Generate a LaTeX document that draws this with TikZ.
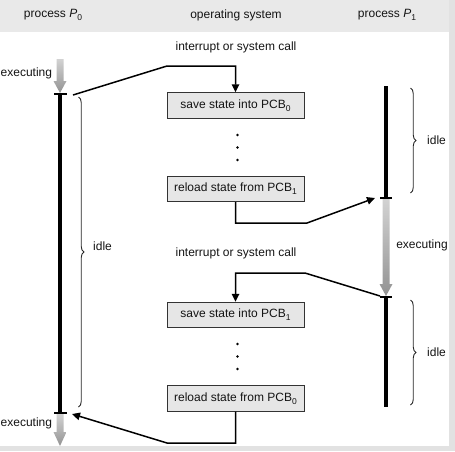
\documentclass[tikz,border=0pt]{standalone}
\usepackage{fontspec}
\setmainfont{Liberation Sans}
\usetikzlibrary{arrows.meta,decorations.pathreplacing}
\definecolor{bandgray}{HTML}{E9E9E9}
\definecolor{edgegray}{HTML}{E2E2E2}
\definecolor{boxgray}{HTML}{E6E6E6}
\definecolor{inkgray}{HTML}{141414}
\newcommand\lowsub[1]{\raisebox{-0.45ex}{\fontsize{8.5}{9}\selectfont #1}}
\begin{document}
\begin{tikzpicture}[x=1pt,y=-1pt,
  font=\fontsize{12}{14}\selectfont, text=inkgray,
  lbl/.style={inner sep=0pt},
  statebox/.style={draw=black!80, fill=boxgray, line width=0.9pt, minimum width=137pt, minimum height=25.5pt, inner sep=0pt},
  conn/.style={line width=1.5pt, draw=black},
  arr/.style={conn, -{Triangle[length=8pt,width=7.5pt]}},
  timeline/.style={line width=3.4pt, draw=black},
  tickmark/.style={line width=1.4pt, draw=black},
  bracestyle/.style={decorate, decoration={brace, amplitude=5.5pt}, line width=0.9pt, draw=black!85},
  dotmark/.style={circle, fill=black, inner sep=0pt, minimum size=2.6pt},
  gradarrow/.style={top color=gray!35, bottom color=gray!85}]
\useasboundingbox (0,0) rectangle (455,451);
% background bands
\fill[bandgray] (0,0) rectangle (449,31.5);
\fill[edgegray] (449,0) rectangle (455,451);
\fill[edgegray] (0,446) rectangle (455,451);

% header labels
\node[lbl] (hp0) at (53,15) {process \textit{P}\lowsub{0}};
\node[lbl] (hos) at (236,15) {operating system};
\node[lbl] (hp1) at (387,15) {process \textit{P}\lowsub{1}};

% OS column
\node[lbl] (int1) at (236,47) {interrupt or system call};
\node[statebox] (s0) at (235.5,105.5) {save state into PCB\lowsub{0}};
\node[dotmark] (d1) at (237.5,135) {};
\node[dotmark] (d2) at (237.5,147.5) {};
\node[dotmark] (d3) at (237.5,160) {};
\node[statebox] (r1) at (235.5,189) {reload state from PCB\lowsub{1}};
\node[lbl] (int2) at (236,253) {interrupt or system call};
\node[statebox] (s1) at (235.5,315) {save state into PCB\lowsub{1}};
\node[dotmark] (d4) at (237.5,344) {};
\node[dotmark] (d5) at (237.5,356.5) {};
\node[dotmark] (d6) at (237.5,369) {};
\node[statebox] (r0) at (235.5,398.5) {reload state from PCB\lowsub{0}};

% process P0
\shade[gradarrow] (56.5,59) -- (63.5,59) -- (63.5,81) -- (66.5,81) -- (60,93) -- (53.5,81) -- (56.5,81) -- cycle;
\coordinate (p0top) at (60,94);
\coordinate (p0bot) at (60,413);
\draw[timeline] (p0top) -- (p0bot);
\draw[tickmark] (54,94) -- (67,94);
\draw[tickmark] (54,413) -- (67,413);
\shade[gradarrow] (56.5,414) -- (63.5,414) -- (63.5,432) -- (66.5,432) -- (60,446) -- (53.5,432) -- (56.5,432) -- cycle;
\node[lbl, anchor=west] (ex0) at (0.5,73) {executing};
\node[lbl, anchor=west] (ex0b) at (0.5,423) {executing};
\draw[bracestyle] (78.5,97) -- (78.5,407);
\node[lbl, anchor=west] (idle0) at (93,246) {idle};

% process P1
\coordinate (p1top) at (386,86);
\coordinate (p1mid) at (386,198);
\coordinate (p1mid2) at (386,297);
\coordinate (p1bot) at (386,407);
\draw[timeline] (p1top) -- (p1mid);
\draw[tickmark] (380,198) -- (392,198);
\shade[gradarrow] (382.5,199) -- (389.5,199) -- (389.5,284) -- (392.5,284) -- (386,296) -- (379.5,284) -- (382.5,284) -- cycle;
\draw[tickmark] (380,297) -- (392,297);
\draw[timeline] (p1mid2) -- (p1bot);
\node[lbl] (ex1) at (422,245) {executing};
\draw[bracestyle] (410.5,88) -- (410.5,193);
\node[lbl, anchor=west] (idle1) at (427,140) {idle};
\draw[bracestyle] (410.5,300) -- (410.5,405);
\node[lbl, anchor=west] (idle2) at (427,352) {idle};

% connectors
\coordinate (p0out) at (73,95);
\coordinate (c1a) at (167,66);
\draw[arr] (p0out) -- (c1a) -| (s0.north);

\coordinate (c2a) at (r1.south |- 0,223);
\coordinate (c2b) at (307,223);
\coordinate (p1in) at (375,198);
\draw[arr] (r1.south) -- (c2a) -- (c2b) -- (p1in);

\coordinate (p1out) at (380,296);
\coordinate (c3a) at (305,273);
\draw[arr] (p1out) -- (c3a) -| (s1.north);

\coordinate (c4a) at (r0.south |- 0,443);
\coordinate (c4b) at (167,443);
\coordinate (p0in) at (72,414);
\draw[arr] (r0.south) -- (c4a) -- (c4b) -- (p0in);
\end{tikzpicture}
\end{document}
